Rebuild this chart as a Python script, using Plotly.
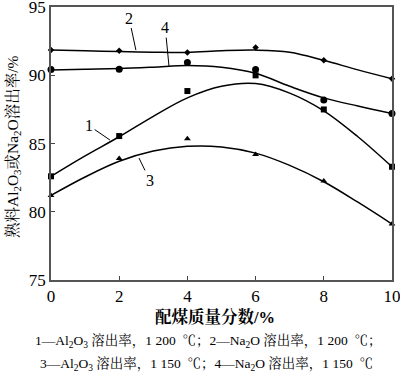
import plotly.graph_objects as go

x_pts = [0, 2, 4, 6, 8, 10]
s1_pts = [82.6, 85.55, 88.85, 90.0, 87.5, 83.3]   # Al2O3 1200
s2_pts = [91.85, 91.8, 91.68, 92.05, 91.1, 89.75]  # Na2O 1200
s3_pts = [81.2, 83.9, 85.35, 84.2, 82.25, 79.1]   # Al2O3 1150
s4_pts = [90.43, 90.45, 90.95, 90.43, 88.2, 87.2]  # Na2O 1150

x_fit = [0, 1, 2, 3, 4, 5, 6, 7, 8, 9, 10]
s1_fit = [82.6, 84.1, 85.5, 87.0, 88.35, 89.2, 89.4, 88.7, 87.4, 85.5, 83.3]
s2_fit = [91.85, 91.8, 91.75, 91.7, 91.68, 91.8, 91.85, 91.7, 91.1, 90.4, 89.75]
s3_fit = [81.2, 82.55, 83.7, 84.45, 84.8, 84.75, 84.3, 83.4, 82.2, 80.7, 79.1]
s4_fit = [90.4, 90.45, 90.5, 90.6, 90.72, 90.6, 90.15, 89.2, 88.35, 87.75, 87.2]

labels = ["1", "2", "3", "4"]
x_ticks = [0, 2, 4, 6, 8, 10]
y_ticks = [75, 80, 85, 90, 95]

LAT = "Liberation Serif, Noto Serif CJK SC, Noto Sans CJK SC"
fig = go.Figure()

for fit in [s1_fit, s2_fit, s3_fit, s4_fit]:
    fig.add_trace(go.Scatter(x=x_fit, y=fit, mode="lines",
                             line=dict(color="black", width=1.5, shape="spline", smoothing=1.0),
                             showlegend=False, hoverinfo="skip"))

markers = [("square", 6, s1_pts), ("diamond", 5, s2_pts), ("triangle-up", 6, s3_pts), ("circle", 7, s4_pts)]
for sym, sz, pts in markers:
    fig.add_trace(go.Scatter(x=x_pts, y=pts, mode="markers",
                             marker=dict(symbol=sym, size=sz, color="black"),
                             showlegend=False, cliponaxis=False))

# label leaders: (text x, text y, head x, head y)
lab_pos = [(1.12, 86.3, 1.73, 85.26), (2.29, 94.2, 2.49, 91.85),
           (2.9, 82.3, 2.58, 83.94), (3.35, 93.5, 3.46, 90.68)]
for lab, (tx, ty, hx, hy) in zip(labels, lab_pos):
    fig.add_annotation(x=hx, y=hy, ax=tx, ay=ty, xref="x", yref="y", axref="x", ayref="y",
                       text=lab, showarrow=True, arrowhead=0, arrowwidth=1, arrowcolor="black",
                       standoff=0, startstandoff=0,
                       font=dict(family=LAT, size=16, color="black"))

common = dict(xref="paper", yref="paper", showarrow=False, xanchor="center", yanchor="middle")
fig.add_annotation(x=0.482, y=-0.1355, text="<b>配煤质量分数/%</b>",
                   font=dict(family=LAT, size=16.5, color="black"), **common)
fig.add_annotation(x=-0.112, y=0.49, textangle=-90,
                   text="熟料Al<sub>2</sub>O<sub>3</sub>或Na<sub>2</sub>O溶出率/%",
                   font=dict(family=LAT, size=15.5, color="black"), **common)
fig.add_annotation(x=0.46, y=-0.223,
                   text="1—Al<sub>2</sub>O<sub>3</sub> 溶出率，1 200  ℃；2—Na<sub>2</sub>O 溶出率，1 200  ℃；",
                   font=dict(family=LAT, size=13.5, color="black"), **common)
fig.add_annotation(x=0.455, y=-0.308,
                   text="3—Al<sub>2</sub>O<sub>3</sub> 溶出率，1 150  ℃；4—Na<sub>2</sub>O 溶出率，1 150  ℃",
                   font=dict(family=LAT, size=13.5, color="black"), **common)

fig.update_layout(
    template="none",
    width=400, height=377, margin=dict(l=51, r=8, t=7, b=97, autoexpand=False),
    plot_bgcolor="white", paper_bgcolor="white",
    font=dict(family=LAT, size=15, color="black"),
)
fig.update_xaxes(range=[0, 10], tickvals=x_ticks, ticks="inside", ticklen=4, tickcolor="#444",
                 showline=True, linecolor="#555", linewidth=1.5, mirror=True, showgrid=False,
                 zeroline=False, automargin=False, ticklabeloverflow="allow",
                 tickfont=dict(family=LAT, size=17))
fig.update_yaxes(range=[75, 95.01], tickvals=y_ticks, ticks="inside", ticklen=4, tickcolor="#444",
                 showline=True, linecolor="#555", linewidth=1.5, mirror=True, showgrid=False,
                 zeroline=False, automargin=False, ticklabeloverflow="allow",
                 tickfont=dict(family=LAT, size=17))

fig.write_html("out.html", config={"displayModeBar": False},
               post_script="document.body.style.margin='0';document.body.style.padding='0';document.body.style.overflow='hidden';")
